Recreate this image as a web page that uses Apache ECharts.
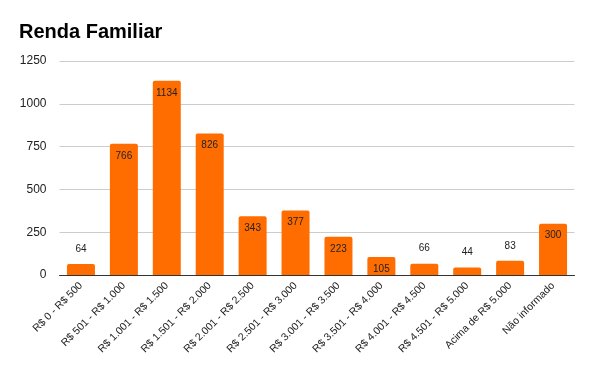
<!DOCTYPE html>
<html><head><meta charset="utf-8">
<script src="https://cdn.jsdelivr.net/npm/echarts@6/dist/echarts.min.js"></script>
<style>html,body{margin:0;padding:0;background:#fff}#c{width:600px;height:371px}</style>
</head><body><div id="c"></div>
<script>
const categories = ["R$ 0 - R$ 500","R$ 501 - R$ 1.000","R$ 1.001 - R$ 1.500","R$ 1.501 - R$ 2.000","R$ 2.001 - R$ 2.500","R$ 2.501 - R$ 3.000","R$ 3.001 - R$ 3.500","R$ 3.501 - R$ 4.000","R$ 4.001 - R$ 4.500","R$ 4.501 - R$ 5.000","Acima de R$ 5.000","Não informado"];
const values = [64,766,1134,826,343,377,223,105,66,44,83,300];
const yTicks = [0,250,500,750,1000,1250];

const chart = echarts.init(document.getElementById('c'), null, {renderer:'canvas'});
chart.setOption({
  animation:false,
  title:{text:'Renda Familiar',left:19,top:22,padding:0,textStyle:{fontFamily:'Liberation Sans, Arial',fontWeight:'bold',fontSize:20,color:'#000'}},
  grid:{left:59.5,right:25.5,top:61,bottom:96},
  xAxis:{type:'category',data:categories,
    axisLine:{lineStyle:{color:'#333',width:1}},
    axisTick:{show:false},
    axisLabel:{rotate:45,interval:0,fontFamily:'Liberation Sans, Arial',fontSize:10.5,color:'#222',margin:9}},
  yAxis:{type:'value',min:yTicks[0],max:yTicks[yTicks.length-1],interval:250,
    axisLine:{show:false},axisTick:{show:false},
    splitLine:{lineStyle:{color:'#ccc'}},
    axisLabel:{fontFamily:'Liberation Sans, Arial',fontSize:12,color:'#222',margin:13,formatter:v=>String(v)}},
  series:[{type:'bar',barWidth:28,
    itemStyle:{color:'#ff6d01',borderRadius:[2,2,0,0]},
    data:values.map(v=>({value:v,label:{position: v<100?'top':'insideTop',distance: v<100?10:7}})),
    label:{show:true,fontFamily:'Liberation Sans, Arial',fontSize:10,color:'#222'}
  }]
});
</script></body></html>
